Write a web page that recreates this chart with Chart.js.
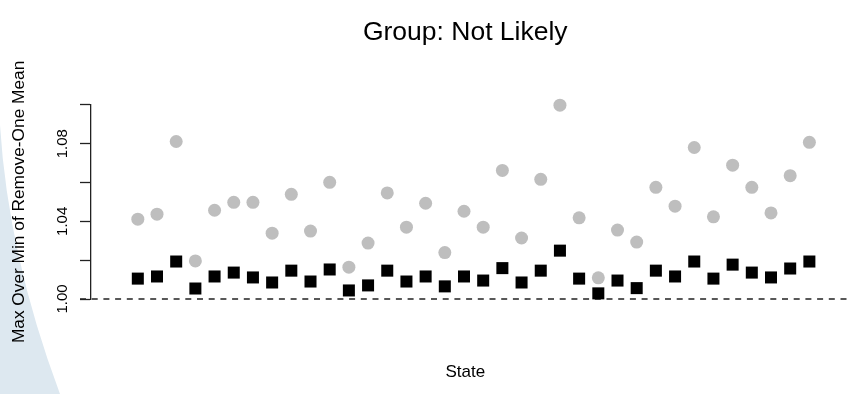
<!DOCTYPE html>
<html>
<head>
<meta charset="utf-8">
<script src="https://cdn.jsdelivr.net/npm/chart.js@4/dist/chart.umd.min.js"></script>
<style>
  html, body { margin: 0; padding: 0; background: #fff; }
  #wrap { width: 848px; height: 394px; }
</style>
</head>
<body>
<div id="wrap"><canvas id="grafico" width="848" height="394"></canvas></div>
<script>
// valores por estado (1..36)
const maxMin = [1.0411, 1.0437, 1.0811, 1.0196, 1.0457, 1.0498, 1.0498, 1.0339, 1.0539,
  1.0350, 1.0601, 1.0164, 1.0288, 1.0546, 1.0370, 1.0493, 1.0239, 1.0452,
  1.0370, 1.0662, 1.0314, 1.0616, 1.0998, 1.0418, 1.0109, 1.0355, 1.0293,
  1.0575, 1.0478, 1.0780, 1.0423, 1.0689, 1.0575, 1.0443, 1.0635, 1.0807];
const medio = [1.0105, 1.0116, 1.0193, 1.0054, 1.0116, 1.0136, 1.0111, 1.0085, 1.0146,
  1.0090, 1.0152, 1.0044, 1.0070, 1.0146, 1.0090, 1.0116, 1.0065, 1.0116,
  1.0095, 1.0159, 1.0085, 1.0146, 1.0249, 1.0105, 1.0029, 1.0095, 1.0056,
  1.0146, 1.0116, 1.0193, 1.0105, 1.0177, 1.0136, 1.0111, 1.0157, 1.0193];
const yTicks = ['1.00', '1.04', '1.08'];
const lineaRef = 1.00;

// fondo azul claro abajo a la izquierda + linea punteada en 1.00
const extras = {
  id: 'extras',
  beforeDraw(chart) {
    const ctx = chart.ctx;
    ctx.save();
    ctx.fillStyle = '#dde8f0';
    ctx.beginPath();
    ctx.moveTo(0, 125);
    ctx.quadraticCurveTo(8, 255, 60, 394);
    ctx.lineTo(0, 394);
    ctx.closePath();
    ctx.fill();
    ctx.restore();
  },
  beforeDatasetsDraw(chart) {
    const ctx = chart.ctx;
    const y = chart.scales.y.getPixelForValue(lineaRef);
    ctx.save();
    ctx.strokeStyle = '#222';
    ctx.lineWidth = 1.3;
    ctx.setLineDash([6, 5.7]);
    ctx.beginPath();
    ctx.moveTo(80, y);
    ctx.lineTo(chart.width, y);
    ctx.stroke();
    ctx.restore();
  }
};

Chart.defaults.font.family = 'Arial, "Liberation Sans", sans-serif';
Chart.defaults.color = '#000';

new Chart(document.getElementById('grafico').getContext('2d'), {
  type: 'scatter',
  data: {
    datasets: [{
      label: 'max',
      data: maxMin.map((v, i) => ({ x: i + 1, y: v })),
      pointStyle: 'circle',
      pointRadius: 6.5,
      pointHoverRadius: 6.5,
      backgroundColor: '#bebebe',
      borderWidth: 0,
      clip: false
    }, {
      label: 'medio',
      data: medio.map((v, i) => ({ x: i + 1, y: v })),
      pointStyle: 'rect',
      pointRadius: 8.5,
      pointHoverRadius: 8.5,
      backgroundColor: '#000',
      borderWidth: 0,
      clip: false
    }]
  },
  options: {
    responsive: false,
    animation: false,
    layout: { padding: 0 },
    plugins: {
      legend: { display: false },
      tooltip: { enabled: false },
      title: {
        display: true,
        text: 'Group: Not Likely',
        fullSize: false,
        font: { size: 26.5, weight: 'normal' },
        padding: { top: 17, bottom: 56 }
      }
    },
    scales: {
      x: {
        type: 'linear',
        min: -1.44,
        max: 37.57,
        border: { display: false },
        grid: { display: false },
        ticks: { display: false },
        title: {
          display: true,
          text: 'State',
          font: { size: 17 },
          padding: { top: 0, bottom: 11 }
        },
        afterFit(scale) { scale.height = 95; }
      },
      y: {
        min: 1.00,
        max: 1.10,
        border: { display: true, color: '#222', width: 1.3 },
        grid: {
          drawOnChartArea: false,
          drawTicks: true,
          tickLength: 11,
          tickWidth: 1.3,
          tickColor: '#222'
        },
        ticks: {
          stepSize: 0.02,
          minRotation: 90,
          maxRotation: 90,
          crossAlign: 'center',
          padding: 3,
          font: { size: 15 },
          callback: v => yTicks.includes(v.toFixed(2)) ? v.toFixed(2) : ''
        },
        title: {
          display: true,
          text: 'Max Over Min of Remove-One Mean',
          font: { size: 17.3 },
          padding: { top: 9, bottom: 0 }
        },
        afterFit(scale) { scale.width = 91; }
      }
    }
  },
  plugins: [extras]
});
</script>
</body>
</html>
